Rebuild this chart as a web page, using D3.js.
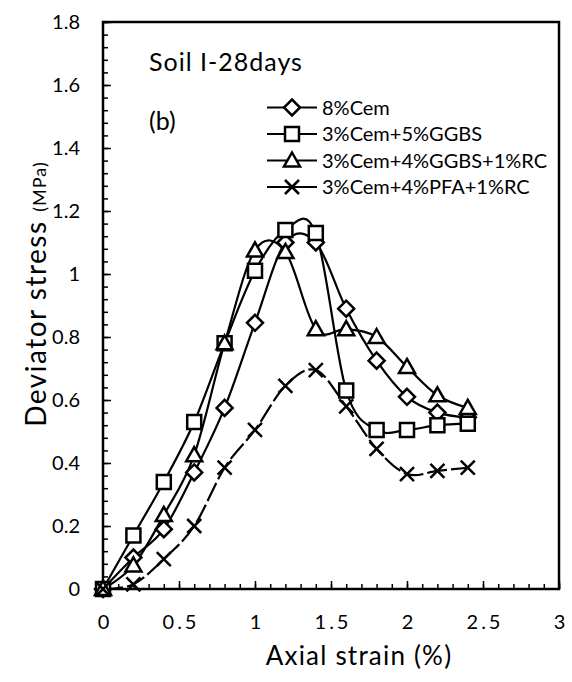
<!DOCTYPE html>
<html>
<head>
<meta charset="utf-8">
<script src="https://cdn.jsdelivr.net/npm/d3@7"></script>
<style>
  body { margin: 0; background: #fff; }
  svg text { font-family: Lato, "Open Sans", sans-serif; fill: #000; }
</style>
</head>
<body>
<svg id="chart"></svg>
<script>
// values
const strain = [0, 0.2, 0.4, 0.6, 0.8, 1.0, 1.2, 1.4, 1.6, 1.8, 2.0, 2.2, 2.4]
const cem8 = [0, 0.10, 0.19, 0.37, 0.575, 0.845, 1.10, 1.10, 0.89, 0.725, 0.61, 0.56, 0.545]
const cemGgbs = [0, 0.17, 0.34, 0.53, 0.78, 1.01, 1.14, 1.13, 0.63, 0.505, 0.505, 0.52, 0.525]
const cemGgbsRc = [0, 0.075, 0.235, 0.425, 0.78, 1.075, 1.07, 0.825, 0.825, 0.80, 0.705, 0.615, 0.575]
const cemPfaRc = [0, 0.015, 0.095, 0.20, 0.385, 0.505, 0.645, 0.695, 0.58, 0.445, 0.365, 0.375, 0.385]
const seriesNames = ["8%Cem", "3%Cem+5%GGBS", "3%Cem+4%GGBS+1%RC", "3%Cem+4%PFA+1%RC"]
const seriesMarkers = ["diamond", "square", "triangle", "cross"]

const yTicks = [0, 0.2, 0.4, 0.6, 0.8, 1, 1.2, 1.4, 1.6, 1.8]
const yTickLabels = ["0", "0.2", "0.4", "0.6", "0.8", "1", "1.2", "1.4", "1.6", "1.8"]
const xTicks = [0, 0.5, 1, 1.5, 2, 2.5, 3]
const xTickLabels = ["0", "0.5", "1", "1.5", "2", "2.5", "3"]

const width = 572, height = 682
const margin = { top: 22, right: 13, bottom: 93, left: 103 }

const svg = d3.select("#chart").attr("width", width).attr("height", height)

const x = d3.scaleLinear().domain([0, 3]).range([margin.left, width - margin.right])
const y = d3.scaleLinear().domain([0, 1.8]).range([height - margin.bottom, margin.top])

// minor ticks first, then the major ones on top
svg.append("g")
    .attr("transform", `translate(0,${y(0)})`)
    .call(d3.axisBottom(x).tickValues(d3.range(0, 30.5, 1).map(d => d / 10)).tickSize(-5).tickFormat(""))
    .call(g => g.select(".domain").remove())
    .call(g => g.selectAll("line").attr("stroke-width", 1.5))
svg.append("g")
    .attr("transform", `translate(${x(0)},0)`)
    .call(d3.axisLeft(y).tickValues(d3.range(0, 46).map(d => d * 0.04)).tickSize(-5).tickFormat(""))
    .call(g => g.select(".domain").remove())
    .call(g => g.selectAll("line").attr("stroke-width", 1.5))

const xAxis = svg.append("g")
    .attr("transform", `translate(0,${y(0)})`)
    .call(d3.axisBottom(x).tickValues(xTicks).tickSize(-8).tickPadding(26)
        .tickFormat((d, i) => xTickLabels[i]))
xAxis.select(".domain").remove()
xAxis.selectAll("line").attr("stroke-width", 1.5)
xAxis.selectAll("text").attr("font-size", 20).attr("letter-spacing", 3).attr("dx", 1.5)
    .attr("font-family", "Lato, sans-serif")

const yAxis = svg.append("g")
    .attr("transform", `translate(${x(0)},0)`)
    .call(d3.axisLeft(y).tickValues(yTicks).tickSize(-8).tickPadding(23)
        .tickFormat((d, i) => yTickLabels[i]))
yAxis.select(".domain").remove()
yAxis.selectAll("line").attr("stroke-width", 1.5)
yAxis.selectAll("text").attr("font-size", 20).attr("font-family", "Lato, sans-serif")

// plot frame
svg.append("rect")
    .attr("x", x(0)).attr("y", y(1.8))
    .attr("width", x(3) - x(0)).attr("height", y(0) - y(1.8))
    .attr("fill", "none").attr("stroke", "#000").attr("stroke-width", 2.5)

// axis titles
svg.append("text")
    .attr("x", 359).attr("y", 665)
    .attr("text-anchor", "middle").attr("font-size", 26).attr("letter-spacing", 1.2)
    .text("Axial strain (%)")

const yTitle = svg.append("text")
    .attr("transform", `translate(46,294) rotate(-90)`)
    .attr("text-anchor", "middle")
yTitle.append("tspan").attr("font-size", 28).attr("letter-spacing", 1.5).text("Deviator stress ")
yTitle.append("tspan").attr("font-size", 18).attr("letter-spacing", 1).text("(MPa)")

// annotations
svg.append("text").attr("x", 149).attr("y", 71).attr("font-size", 25).attr("letter-spacing", 1)
    .text("Soil I-28days")
svg.append("text").attr("x", 149).attr("y", 130).attr("font-size", 25).text("(b)")

// marker shapes
const markerPath = (type) => {
    if (type === "diamond") return "M0,-8L8,0L0,8L-8,0Z"
    if (type === "square") return "M-7,-7H7V7H-7Z"
    if (type === "triangle") return "M0,-8L8,6H-8Z"
    return "M-7,-7L7,7M7,-7L-7,7"
}

const allSeries = [cem8, cemGgbs, cemGgbsRc, cemPfaRc]
const line = d3.line()
    .x((d, i) => x(strain[i]))
    .y(d => y(d))
    .curve(d3.curveCatmullRom.alpha(0))

allSeries.forEach((vals, si) => {
    svg.append("path")
        .datum(vals)
        .attr("d", line)
        .attr("fill", "none")
        .attr("stroke", "#000")
        .attr("stroke-width", 2.2)
        .attr("stroke-dasharray", si === 3 ? "20,4" : null)
})

allSeries.forEach((vals, si) => {
    svg.append("g").selectAll("path")
        .data(vals)
        .join("path")
        .attr("transform", (d, i) => `translate(${x(strain[i])},${y(d)})`)
        .attr("d", markerPath(seriesMarkers[si]))
        .attr("fill", "#fff")
        .attr("stroke", "#000")
        .attr("stroke-width", 2.5)
})

// legend
const legend = svg.append("g").attr("transform", "translate(267,107.5)")
seriesNames.forEach((name, i) => {
    const row = legend.append("g").attr("transform", `translate(0,${i * 26.5})`)
    row.append("line").attr("x1", 0).attr("x2", 50)
        .attr("stroke", "#000").attr("stroke-width", 2.2)
    row.append("path").attr("transform", "translate(25,0)")
        .attr("d", markerPath(seriesMarkers[i]))
        .attr("fill", "#fff").attr("stroke", "#000").attr("stroke-width", 2.5)
    row.append("text").attr("x", 55).attr("dy", "0.35em")
        .attr("font-size", 20).text(name)
})
</script>
</body>
</html>
